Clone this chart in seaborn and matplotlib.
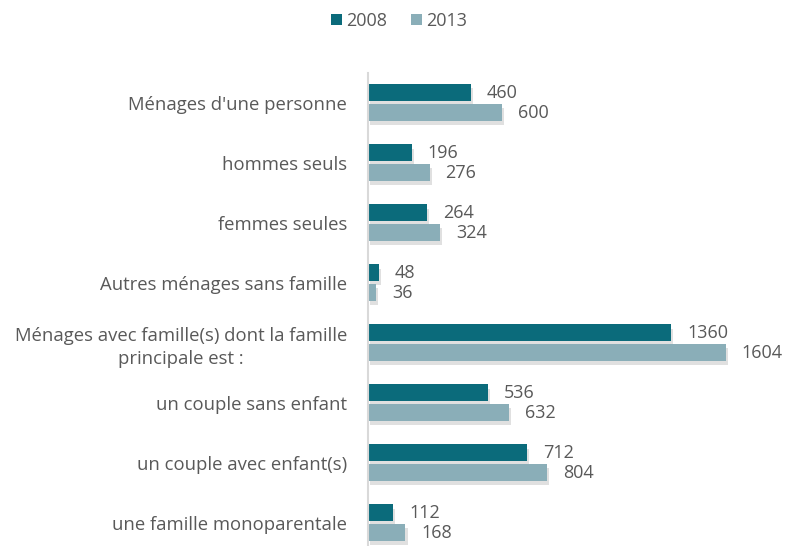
import pandas as pd
import matplotlib.pyplot as plt
import matplotlib.patheffects as pe
import seaborn as sns

categories = [
    "Ménages d'une personne",
    "hommes seuls",
    "femmes seules",
    "Autres ménages sans famille",
    "Ménages avec famille(s) dont la famille\nprincipale est :",
    "un couple sans enfant",
    "un couple avec enfant(s)",
    "une famille monoparentale",
]
years = ["2008", "2013"]
values_2008 = [460, 196, 264, 48, 1360, 536, 712, 112]
values_2013 = [600, 276, 324, 36, 1604, 632, 804, 168]

colors = ["#0B6B7B", "#8AAEB8"]
text_color = "#595959"


def create_chart(output_filename):
    df = pd.DataFrame({
        'Categorie': categories * 2,
        'Annee': [years[0]] * len(categories) + [years[1]] * len(categories),
        'Valeur': values_2008 + values_2013,
    })

    sns.set_style('white')
    plt.rcParams['font.family'] = ['Open Sans', 'DejaVu Sans']

    fig = plt.figure(figsize=(7.87, 5.46), dpi=100)
    ax = fig.add_axes([0.4676, -0.018, 0.51, 0.885])

    sns.barplot(data=df, y='Categorie', x='Valeur', hue='Annee',
                palette=colors, width=0.66, gap=0.15, ax=ax,
                saturation=1, linewidth=0, legend=True)

    # ombre portée légère comme dans Excel
    for patch in ax.patches:
        patch.set_edgecolor('none')
        patch.set_path_effects([pe.SimplePatchShadow(offset=(1.5, -3), shadow_rgbFace='#9A9A9A', alpha=0.3),
                                pe.Normal()])

    # étiquettes de valeurs
    for container in ax.containers:
        ax.bar_label(container, fmt='%d', padding=11.5, fontsize=13, color=text_color)

    ax.set_xlim(0, 1800)
    ax.set_ylim(7.55, -0.5)
    ax.set_xlabel('')
    ax.set_ylabel('')
    ax.set_xticks([])
    ax.tick_params(axis='y', length=0, pad=15, labelsize=13.3, labelcolor=text_color)
    for lbl in ax.get_yticklabels():
        lbl.set_multialignment('center')
        lbl.set_horizontalalignment('right')
        lbl.set_linespacing(1.35)

    for side in ['top', 'right', 'bottom']:
        ax.spines[side].set_visible(False)
    ax.spines['left'].set_color('#D9D9D9')
    ax.spines['left'].set_linewidth(1.5)

    handles, labels = ax.get_legend_handles_labels()
    for h in handles:
        h.set_path_effects([])
    ax.legend(handles, labels, loc='center', bbox_to_anchor=(0.507, 0.962),
              bbox_transform=fig.transFigure, ncol=2, frameon=False,
              fontsize=13, handlelength=0.6, handleheight=0.6,
              handletextpad=0.25, columnspacing=1.3, labelcolor=text_color)

    fig.savefig(output_filename, dpi=100)
    plt.close(fig)


if __name__ == '__main__':
    create_chart('out.png')
